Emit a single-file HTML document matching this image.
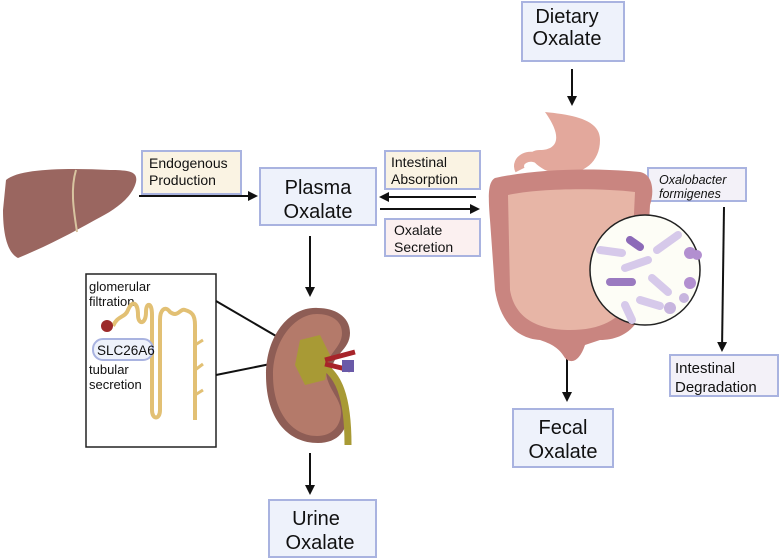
<!DOCTYPE html>
<html><head><meta charset="utf-8"><style>
html,body{margin:0;padding:0;background:#fff}
svg{display:block}
text{font-family:"Liberation Sans",sans-serif;fill:#111}
</style></head><body>
<svg width="781" height="560" viewBox="0 0 781 560" xmlns="http://www.w3.org/2000/svg">
<defs>
<marker id="ah" markerWidth="10" markerHeight="10" refX="8" refY="5" orient="auto" markerUnits="userSpaceOnUse"><path d="M0,0 L10,5 L0,10 z" fill="#111"/></marker>
</defs>
<!-- liver -->
<path d="M6,180 C20,168 70,168 110,170 C130,170 138,172 136,182 C132,198 115,210 95,220 C70,234 45,247 18,258 C6,252 3,230 3,210 Z" fill="#9a6660"/>
<path d="M76,170 C70,190 74,212 77,232" stroke="#d8c4a0" stroke-width="2" fill="none"/>
<!-- boxes -->
<rect x="142" y="151" width="99" height="43" fill="#faf3e3" stroke="#a9b3e0" stroke-width="2"/>
<text x="149" y="168" font-size="14">Endogenous</text><text x="149" y="185" font-size="14">Production</text>
<rect x="260" y="168" width="116" height="57" fill="#eef2fb" stroke="#a9b3e0" stroke-width="2"/>
<text x="318" y="194" font-size="20" text-anchor="middle">Plasma</text><text x="318" y="218" font-size="20" text-anchor="middle">Oxalate</text>
<rect x="385" y="151" width="95" height="38" fill="#faf3e3" stroke="#a9b3e0" stroke-width="2"/>
<text x="391" y="167" font-size="14">Intestinal</text><text x="391" y="184" font-size="14">Absorption</text>
<rect x="385" y="219" width="95" height="37" fill="#fbf0f0" stroke="#a9b3e0" stroke-width="2"/>
<text x="394" y="235" font-size="14">Oxalate</text><text x="394" y="252" font-size="14">Secretion</text>
<rect x="522" y="2" width="102" height="59" fill="#eef2fb" stroke="#a9b3e0" stroke-width="2"/>
<text x="567" y="23" font-size="20" text-anchor="middle">Dietary</text><text x="567" y="45" font-size="20" text-anchor="middle">Oxalate</text>
<rect x="648" y="168" width="98" height="33" fill="#f3f1f8" stroke="#a9b3e0" stroke-width="2"/>
<text x="659" y="184" font-size="12.5" font-style="italic">Oxalobacter</text><text x="659" y="198" font-size="12.5" font-style="italic">formigenes</text>
<rect x="670" y="355" width="108" height="41" fill="#f3f1f8" stroke="#a9b3e0" stroke-width="2"/>
<text x="675" y="373" font-size="15">Intestinal</text><text x="675" y="392" font-size="15">Degradation</text>
<rect x="513" y="409" width="100" height="58" fill="#eef2fb" stroke="#a9b3e0" stroke-width="2"/>
<text x="563" y="434" font-size="20" text-anchor="middle">Fecal</text><text x="563" y="458" font-size="20" text-anchor="middle">Oxalate</text>
<rect x="269" y="500" width="107" height="57" fill="#eef2fb" stroke="#a9b3e0" stroke-width="2"/>
<text x="316" y="525" font-size="20" text-anchor="middle">Urine</text><text x="320" y="549" font-size="20" text-anchor="middle">Oxalate</text>
<!-- arrows -->
<g stroke="#111" stroke-width="2" fill="none">
<line x1="139" y1="196" x2="256" y2="196" marker-end="url(#ah)"/>
<line x1="476" y1="197" x2="381" y2="197" marker-end="url(#ah)"/>
<line x1="380" y1="209" x2="478" y2="209" marker-end="url(#ah)"/>
<line x1="572" y1="69" x2="572" y2="104" marker-end="url(#ah)"/>
<line x1="724" y1="207" x2="722" y2="350" marker-end="url(#ah)"/>
<line x1="567" y1="356" x2="567" y2="400" marker-end="url(#ah)"/>
<line x1="310" y1="236" x2="310" y2="295" marker-end="url(#ah)"/>
<line x1="310" y1="453" x2="310" y2="493" marker-end="url(#ah)"/>
</g>
<!-- inset -->
<rect x="86" y="274" width="130" height="173" fill="#fff" stroke="#222" stroke-width="1.5"/>
<text x="89" y="291" font-size="13">glomerular</text><text x="89" y="306" font-size="13">filtration</text>
<text x="89" y="374" font-size="13">tubular</text><text x="89" y="389" font-size="13">secretion</text>
<path d="M113,326 C118,315 125,318 128,310 C132,300 138,302 138,315 C138,325 146,325 146,312 C146,302 152,302 152,315 L152,410 C152,420 160,420 160,410 L160,320 C160,310 165,305 170,312 C178,318 180,308 185,310 C192,312 195,315 195,325 L195,420" stroke="#e2c074" stroke-width="4" fill="none"/>
<path d="M195,345 L203,340 M195,370 L203,364 M195,395 L203,390" stroke="#e2c074" stroke-width="3"/>
<circle cx="107" cy="326" r="6" fill="#9c2a2a"/>
<rect x="93" y="339" width="60" height="21" rx="10" fill="#eef2fb" stroke="#a9b3e0" stroke-width="2"/>
<text x="97" y="355" font-size="13.5">SLC26A6</text>
<line x1="216" y1="301" x2="300" y2="350" stroke="#111" stroke-width="2"/>
<line x1="216" y1="375" x2="300" y2="358" stroke="#111" stroke-width="2"/>
<!-- kidney -->
<path d="M318,308 C290,306 266,335 266,375 C266,418 287,443 318,443 C338,443 348,430 348,412 C348,395 332,385 332,370 C332,355 350,350 350,333 C350,316 334,308 318,308 Z" fill="#8e5d55"/>
<path d="M317,314 C295,314 273,340 273,375 C273,412 292,436 317,436 C332,436 341,426 341,412 C341,398 326,388 326,370 C326,354 342,348 342,333 C342,320 330,314 317,314 Z" fill="#b47a6a"/>
<path d="M300,340 L320,335 L330,355 L325,380 L305,385 L295,365 Z" fill="#a89a35"/>
<path d="M322,365 C338,375 348,395 348,445" stroke="#a89a35" stroke-width="7" fill="none"/>
<path d="M325,360 L355,352 M325,364 L350,370" stroke="#a7242a" stroke-width="5"/>
<rect x="342" y="360" width="12" height="12" fill="#6a5aa8"/>
<!-- stomach -->
<path d="M545,112 C575,115 600,120 600,140 C600,170 570,180 545,170 C530,162 525,150 540,150 C555,150 565,140 545,112 Z" fill="#e3a89c"/>
<path d="M520,170 C515,160 530,152 540,160" stroke="#e3a89c" stroke-width="10" fill="none"/>
<!-- intestines -->
<path d="M495,178 C540,168 600,168 640,172 C652,174 655,190 650,205 L645,300 C640,330 620,340 600,340 L585,345 C580,360 572,365 565,358 C560,350 555,345 540,340 C515,338 500,320 495,290 L490,220 C488,195 488,182 495,178 Z" fill="#c98580"/>
<path d="M508,195 C540,188 600,188 635,192 L630,300 C620,320 600,330 570,330 C540,330 515,320 510,290 Z" fill="#e7b5a6"/>
<!-- bacteria circle -->
<circle cx="645" cy="270" r="55" fill="#fdfdf6" stroke="#222" stroke-width="1.5"/>
<g stroke-linecap="round" stroke-width="8">
<line x1="630" y1="240" x2="640" y2="247" stroke="#8c6ab8"/>
<line x1="657" y1="250" x2="678" y2="235" stroke="#d6c9ea"/>
<line x1="600" y1="250" x2="622" y2="253" stroke="#d6c9ea"/>
<line x1="625" y1="268" x2="648" y2="260" stroke="#d6c9ea"/>
<line x1="610" y1="282" x2="632" y2="282" stroke="#9a7ac0"/>
<line x1="652" y1="278" x2="668" y2="292" stroke="#d6c9ea"/>
<line x1="640" y1="300" x2="660" y2="306" stroke="#d6c9ea"/>
<line x1="625" y1="305" x2="632" y2="320" stroke="#d6c9ea"/>
</g>
<circle cx="690" cy="253" r="6" fill="#b28fd0"/><circle cx="697" cy="255" r="5" fill="#b28fd0"/>
<circle cx="690" cy="283" r="6" fill="#b28fd0"/>
<circle cx="670" cy="308" r="6" fill="#c7b5de"/><circle cx="684" cy="298" r="5" fill="#c7b5de"/>
</svg>
</body></html>
